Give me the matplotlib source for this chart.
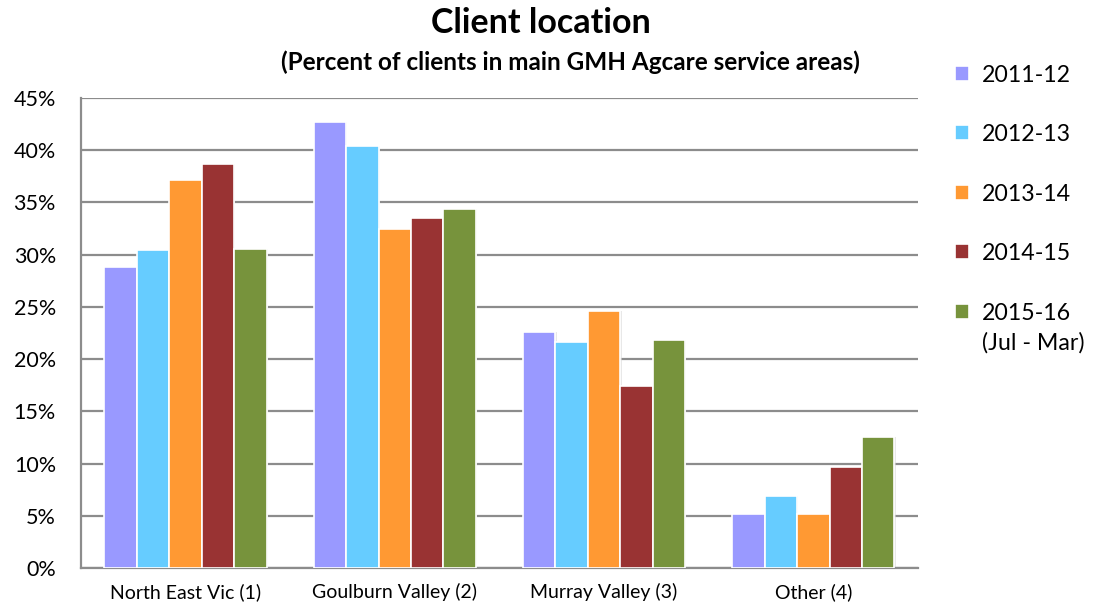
import numpy as np
import matplotlib.pyplot as plt

areas = ["North East Vic (1)", "Goulburn Valley (2)", "Murray Valley (3)", "Other (4)"]
years = ["2011-12", "2012-13", "2013-14", "2014-15", "2015-16"]
colors = ["#9999FF", "#66CCFF", "#FF9933", "#993333", "#77933C"]

pct_2011 = [28.8, 42.7, 22.6, 5.2]
pct_2012 = [30.4, 40.4, 21.6, 6.9]
pct_2013 = [37.1, 32.5, 24.6, 5.2]
pct_2014 = [38.7, 33.5, 17.4, 9.7]
pct_2015 = [30.5, 34.4, 21.8, 12.5]
series = [pct_2011, pct_2012, pct_2013, pct_2014, pct_2015]

plt.rcParams['font.family'] = ['Lato', 'DejaVu Sans']

fig = plt.figure(figsize=(10.97, 6.07), dpi=100)
ax = fig.add_axes([0.0738, 0.0643, 0.7630, 0.7743])

x = np.arange(len(areas))
w = 0.155
for i, (vals, c, lab) in enumerate(zip(series, colors, years)):
    pos = x + (i - 2) * w
    # soft drop shadow behind each bar
    ax.bar(pos + 0.006, vals, w, color="#d9d9d9", zorder=2, alpha=0.6)
    ax.bar(pos, vals, w, color=c, edgecolor="white", linewidth=1.2,
           zorder=3, label=lab)

ax.set_xlim(-0.5, 3.5)
ax.set_ylim(0, 45)
ax.set_yticks(np.arange(0, 46, 5))
ax.set_yticklabels([f"{v}%" for v in range(0, 46, 5)], fontsize=15.5)
ax.set_xticks(x)
ax.set_xticklabels(areas, fontsize=14)
ax.yaxis.grid(True, color="#8c8c8c", linewidth=1.6, zorder=0)
ax.set_axisbelow(True)
for s in ["top", "right"]:
    ax.spines[s].set_visible(False)
for s in ["left", "bottom"]:
    ax.spines[s].set_color("#8c8c8c")
    ax.spines[s].set_linewidth(1.6)
ax.tick_params(axis="x", length=0, pad=11)
ax.tick_params(axis="y", length=0, pad=18)

fig.text(0.493, 0.962, "Client location", ha="center", va="center",
         fontsize=24.5, fontweight="bold")
fig.text(0.520, 0.897, "(Percent of clients in main GMH Agcare service areas)",
         ha="center", va="center", fontsize=17.5, fontweight="bold")

leg = fig.legend(loc="upper left", bbox_to_anchor=(0.862, 0.909), frameon=False,
                 fontsize=16.7, handlelength=0.62, handleheight=0.62,
                 handletextpad=0.55, labelspacing=1.66, borderaxespad=0)
fig.text(0.895, 0.436, "(Jul - Mar)", ha="left", va="center", fontsize=16.7)

fig.savefig("out.png", dpi=100)
